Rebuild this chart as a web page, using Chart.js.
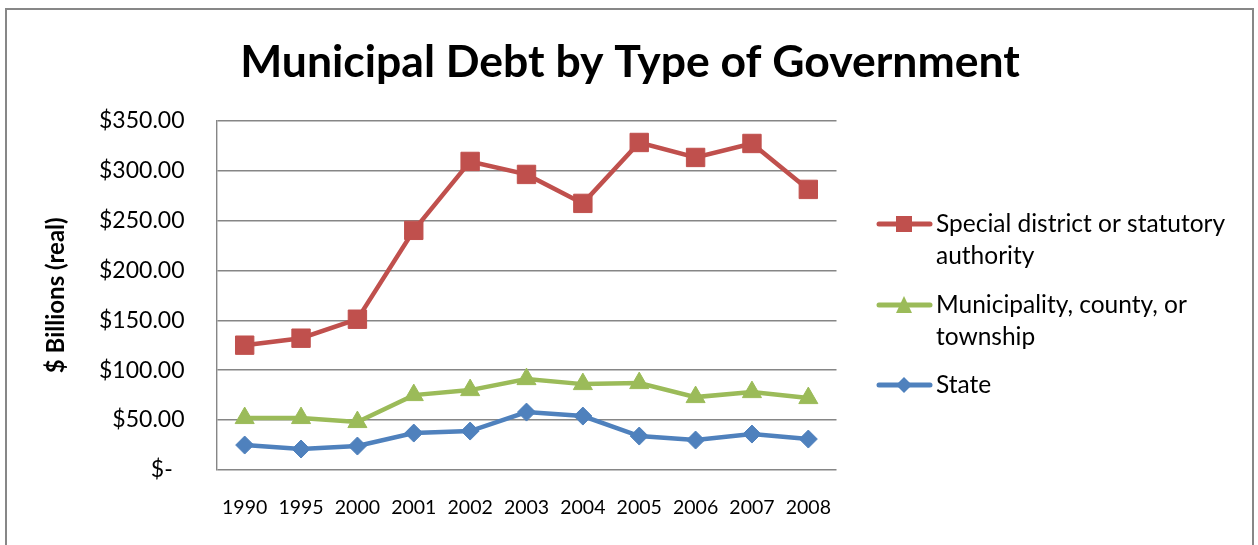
<!DOCTYPE html>
<html><head><meta charset="utf-8">
<script src="https://cdn.jsdelivr.net/npm/chart.js@4.4.1/dist/chart.umd.min.js"></script>
<style>html,body{margin:0;padding:0;background:#fff;} #wrap{width:1258px;height:545px;position:relative;}</style>
</head><body><div id="wrap"><canvas id="c" width="1258" height="545"></canvas></div>
<script>
// ---- data ----
const years = ['1990','1995','2000','2001','2002','2003','2004','2005','2006','2007','2008'];
const specialDistrict = [125, 132, 151, 240, 309, 296, 267, 328, 313, 327, 281];
const municipality = [52, 52, 48, 75, 80, 91, 86, 87, 73, 78, 72];
const stateDebt = [25, 21, 24, 37, 39, 58, 54, 34, 30, 36, 31];
const seriesNames = ['Special district or statutory authority', 'Municipality, county, or township', 'State'];
const chartTitle = 'Municipal Debt by Type of Government';
const yAxisTitle = '$ Billions (real)';
const yMin = 0, yMax = 350, yStep = 50;

// ---- style ----
const FONT = 'Lato, "Open Sans", sans-serif';
const RED = '#C0504D', GREEN = '#9BBB59', BLUE = '#4F81BD';
const GRID = '#868686';

const framePlugin = {
  id: 'frame',
  beforeDraw(chart) {
    const ctx = chart.ctx;
    ctx.save();
    ctx.fillStyle = '#fff';
    ctx.fillRect(0, 0, chart.width, chart.height);
    ctx.restore();
  },
  afterDraw(chart) {
    const ctx = chart.ctx;
    ctx.save();
    ctx.strokeStyle = '#878787';
    ctx.lineWidth = 2;
    ctx.strokeRect(6, 9, 1247, 600);
    // title
    ctx.fillStyle = '#000';
    ctx.font = 'bold 44.5px ' + FONT;
    ctx.textAlign = 'center';
    ctx.textBaseline = 'alphabetic';
    ctx.fillText(chartTitle, 630, 77);
    ctx.restore();
  }
};

function drawMarker(ctx, style, x, y, s, color) {
  ctx.fillStyle = color;
  ctx.beginPath();
  if (style === 'rect') {
    ctx.rect(x - s / 2, y - s / 2, s, s);
  } else if (style === 'triangle') {
    ctx.moveTo(x, y - s / 2 - 1);
    ctx.lineTo(x + s / 2, y + s / 2);
    ctx.lineTo(x - s / 2, y + s / 2);
    ctx.closePath();
  } else {
    ctx.moveTo(x, y - s / 2);
    ctx.lineTo(x + s / 2, y);
    ctx.lineTo(x, y + s / 2);
    ctx.lineTo(x - s / 2, y);
    ctx.closePath();
  }
  ctx.fill();
}

const legendPlugin = {
  id: 'sideLegend',
  afterDraw(chart) {
    const ctx = chart.ctx;
    ctx.save();
    ctx.font = '24.5px ' + FONT;
    ctx.textAlign = 'left';
    ctx.textBaseline = 'middle';
    const maxW = 315;
    const startY = [224, 305, 385];
    chart.data.datasets.forEach((ds, i) => {
      const y = startY[i];
      ctx.strokeStyle = ds.borderColor;
      ctx.lineWidth = 5;
      ctx.lineCap = 'round';
      ctx.beginPath();
      ctx.moveTo(879, y);
      ctx.lineTo(930, y);
      ctx.stroke();
      drawMarker(ctx, ds.pointStyle, 904, y, 16, ds.borderColor);
      // wrap words
      const words = ds.label.split(' ');
      const lines = [];
      let cur = '';
      words.forEach(w => {
        const t = cur ? cur + ' ' + w : w;
        if (ctx.measureText(t).width > maxW && cur) { lines.push(cur); cur = w; }
        else cur = t;
      });
      lines.push(cur);
      ctx.fillStyle = '#000';
      lines.forEach((ln, k) => ctx.fillText(ln, 936, y + k * 32));
    });
    ctx.restore();
  }
};

new Chart(document.getElementById('c'), {
  type: 'line',
  data: {
    labels: years,
    datasets: [
      { label: seriesNames[0], data: specialDistrict, borderColor: RED, backgroundColor: RED,
        pointStyle: 'rect', pointRadius: 13, pointBorderWidth: 1, borderWidth: 4.5 },
      { label: seriesNames[1], data: municipality, borderColor: GREEN, backgroundColor: GREEN,
        pointStyle: 'triangle', pointRadius: 11, pointBorderWidth: 1, borderWidth: 4.5 },
      { label: seriesNames[2], data: stateDebt, borderColor: BLUE, backgroundColor: BLUE,
        pointStyle: 'rectRot', pointRadius: 9, pointBorderWidth: 1, borderWidth: 4.5 }
    ]
  },
  options: {
    responsive: false,
    animation: false,
    devicePixelRatio: 1,
    layout: { padding: { top: 120.5, right: 421.5, bottom: 0, left: 0 } },
    plugins: { legend: { display: false }, title: { display: false }, tooltip: { enabled: false } },
    elements: { line: { tension: 0 } },
    scales: {
      x: {
        offset: true,
        grid: { display: false, drawTicks: false },
        border: { display: false },
        ticks: { color: '#000', font: { family: FONT, size: 19.5 }, padding: 26, maxRotation: 0, autoSkip: false },
        afterFit(s) { s.height = 75; }
      },
      y: {
        min: yMin, max: yMax,
        grid: { color: GRID, lineWidth: 1.4, drawTicks: false },
        border: { display: true, color: GRID, width: 1.4 },
        ticks: {
          stepSize: yStep, color: '#000', padding: 32,
          font: { family: FONT, size: 23 },
          callback: v => v === 0 ? '$-  ' : '$' + Number(v).toFixed(2)
        },
        title: { display: true, text: yAxisTitle, color: '#000',
                 font: { family: FONT, size: 24, weight: 'bold' }, padding: { top: 42, bottom: 0 } },
        afterFit(s) { s.width = 216.5; }
      }
    }
  },
  plugins: [framePlugin, legendPlugin]
});
</script>
</body></html>
